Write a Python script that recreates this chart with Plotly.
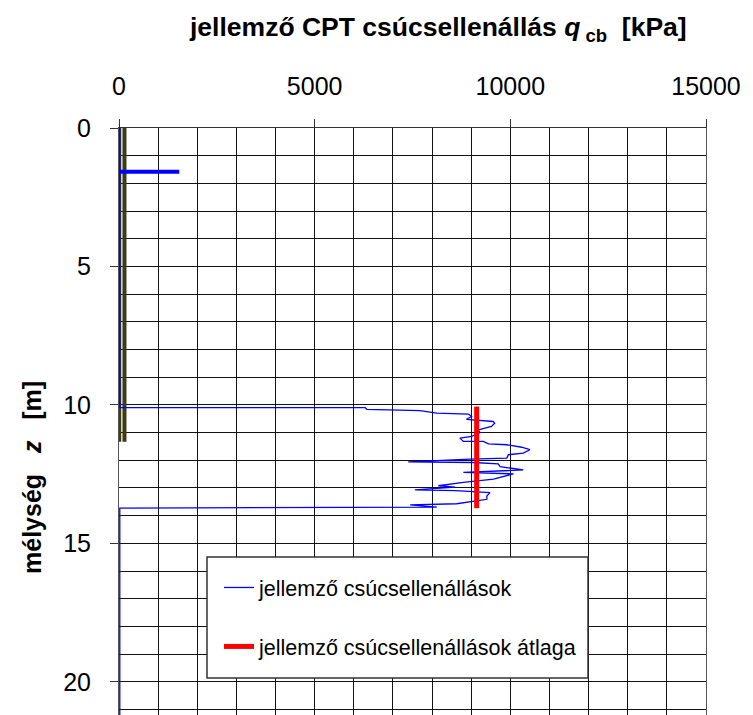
import plotly.graph_objects as go

# ---- data ----
# characteristic CPT tip resistance profile (kPa) vs depth (m)
qc_kpa = [20, 20, 6290, 6330, 7690, 8120, 8930, 9010, 8880, 9150, 9560, 9600, 9520,
          9180, 9230, 9010, 8710, 8800, 9310, 9440, 9910, 10290, 10500, 10330, 9950,
          9910, 8970, 7390, 9050, 9690, 9740, 10330, 9500, 8800, 10080, 9740, 9570,
          8800, 8160, 8590, 7560, 8600, 9480, 9400, 9400, 8630, 7440, 8120, 20, 20]
depth_m = [0.0, 10.10, 10.10, 10.16, 10.21, 10.30, 10.33, 10.42, 10.52, 10.55, 10.60, 10.66, 10.78,
           10.90, 11.00, 11.14, 11.20, 11.32, 11.32, 11.41, 11.44, 11.53, 11.62, 11.74, 11.80,
           11.92, 11.96, 12.06, 12.08, 12.13, 12.23, 12.35, 12.40, 12.44, 12.49, 12.61, 12.68,
           12.80, 12.92, 12.97, 13.07, 13.10, 13.17, 13.29, 13.41, 13.57, 13.61, 13.69, 13.73, 21.5]

# mean of characteristic tip resistances
mean_q = [9140, 9140]
mean_z = [10.06, 13.73]

# short thick blue segment near the surface
top_q = [0, 1540]
top_z = [1.58, 1.58]

# olive vertical bars
olive_a_q = [25, 25]
olive_b_q = [140, 140]
olive_z = [0, 11.33]

x_range = [0, 15000]
y_range = [21.2, 0]

FONT = "Liberation Sans, Arial, sans-serif"

fig = go.Figure()

fig.add_trace(go.Scatter(x=olive_a_q, y=olive_z, mode="lines",
                         line=dict(color="#3d3b12", width=2.5), showlegend=False, hoverinfo="skip"))
fig.add_trace(go.Scatter(x=olive_b_q, y=olive_z, mode="lines",
                         line=dict(color="#3d3b12", width=4), showlegend=False, hoverinfo="skip"))
fig.add_trace(go.Scatter(x=qc_kpa, y=depth_m, mode="lines", name="jellemző csúcsellenállások",
                         line=dict(color="#0000ff", width=1.3), legendgroup="a"))
fig.add_trace(go.Scatter(x=top_q, y=top_z, mode="lines",
                         line=dict(color="#0000ff", width=4), showlegend=False, hoverinfo="skip"))
fig.add_trace(go.Scatter(x=mean_q, y=mean_z, mode="lines", name="jellemző csúcsellenállások átlaga",
                         line=dict(color="#ff0000", width=5), legendgroup="b"))

L, R, T = 119, 47, 128
W, H = 753, 715
pw = W - L - R
ph = H - T

def px_x(p):
    return (p - L) / pw

def px_y(p):
    return 1 - (p - T) / ph

fig.update_layout(
    width=W, height=H,
    margin=dict(l=L, r=R, t=T, b=0, pad=0),
    paper_bgcolor="white", plot_bgcolor="white",
    font=dict(family=FONT, color="black"),
    xaxis=dict(side="top", range=x_range, dtick=5000, tick0=0, tickformat="d",
               showgrid=True, gridcolor="#111", gridwidth=1,
               minor=dict(dtick=1000, showgrid=True, gridcolor="#111", gridwidth=1),
               ticks="outside", ticklen=8, tickcolor="#333", tickwidth=1,
               showline=True, linecolor="#333", linewidth=1,
               tickfont=dict(size=25, family=FONT, color="black"),
               ticklabelstandoff=14, zeroline=False, fixedrange=True),
    yaxis=dict(range=y_range, dtick=5, tick0=0, tickformat="d",
               showgrid=True, gridcolor="#111", gridwidth=1,
               minor=dict(dtick=1, showgrid=True, gridcolor="#111", gridwidth=1),
               ticks="outside", ticklen=8, tickcolor="#333", tickwidth=1,
               showline=True, linecolor="#555", linewidth=1, mirror=True,
               tickfont=dict(size=25, family=FONT, color="black"),
               ticklabelstandoff=14, zeroline=False, fixedrange=True),
    showlegend=True,
    legend=dict(x=px_x(219), y=px_y(567), xanchor="left", yanchor="top",
                bgcolor="rgba(0,0,0,0)", borderwidth=0,
                font=dict(size=21.5, family=FONT, color="black"),
                traceorder="grouped", tracegroupgap=28),
    shapes=[dict(type="rect", xref="paper", yref="paper",
                 x0=px_x(207), x1=px_x(588), y0=px_y(678), y1=px_y(557),
                 fillcolor="white", line=dict(color="#333", width=1.5), layer="above")],
    annotations=[
        dict(text="<b>jellemző CPT csúcsellenállás <i>q</i><sub>\u00a0cb</sub>\u00a0\u00a0[kPa]</b>",
             xref="paper", yref="paper", x=px_x(438), y=px_y(29),
             xanchor="center", yanchor="middle", showarrow=False,
             font=dict(size=26.5, family=FONT, color="black")),
        dict(text="<b>mélység\u00a0\u00a0\u00a0<i>z</i>\u00a0\u00a0\u00a0[m]</b>",
             xref="paper", yref="paper", x=px_x(32), y=px_y(478),
             xanchor="center", yanchor="middle", textangle=-90, showarrow=False,
             font=dict(size=25, family=FONT, color="black")),
    ],
)

fig.write_html("out.html")
